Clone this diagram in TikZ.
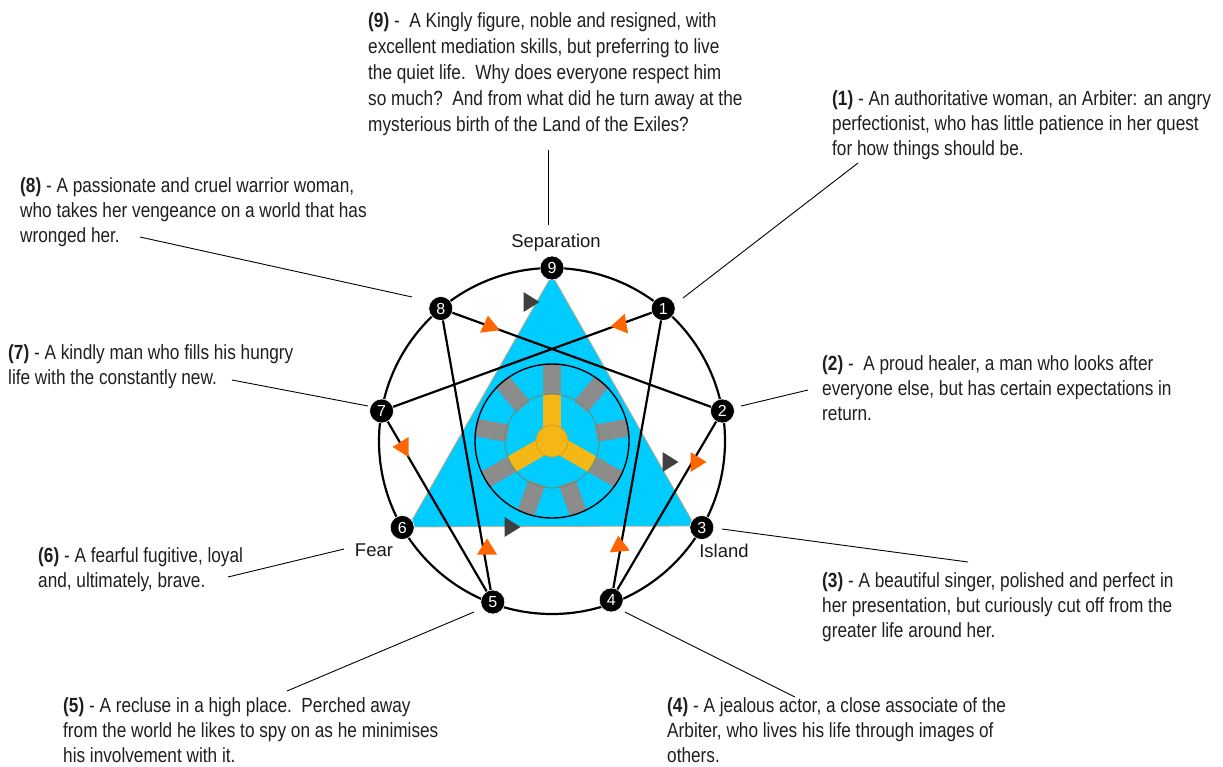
\documentclass[tikz,border=0pt]{standalone}
\usepackage{fontspec}
\usetikzlibrary{calc}
\setmainfont{Liberation Sans}
\newfontfamily\narrowfont{Liberation Sans}[FakeStretch=0.84]
\definecolor{cyanfill}{RGB}{0,204,255}
\definecolor{tanedge}{RGB}{215,170,120}
\definecolor{barGray}{RGB}{140,140,140}
\definecolor{hubYellow}{RGB}{245,183,22}
\definecolor{hubEdge}{RGB}{200,150,30}
\definecolor{ringGreen}{RGB}{110,140,100}
\definecolor{arrOrange}{RGB}{255,102,0}
\definecolor{arrDark}{RGB}{64,64,64}
\tikzset{
  pt/.style={circle, fill=black, draw=white, line width=0.6pt, minimum size=24pt, inner sep=0pt, text=white, font=\fontsize{16}{16}\selectfont},
  desc/.style={anchor=north west, inner sep=0pt, align=left, font=\narrowfont\fontsize{20.5}{25}\selectfont, text=black!88},
  lbl/.style={inner sep=0pt, font=\fontsize{18.5}{18.5}\selectfont, text=black!90},
  leader/.style={draw=black, line width=0.9pt},
  hexad/.style={draw=black, line width=2.2pt},
  omk/.pic={\fill[arrOrange] (8.5,0) -- (-7.5,10) -- (-7.5,-10) -- cycle;},
  dmk/.pic={\fill[arrDark] (8.5,0) -- (-7.5,10) -- (-7.5,-10) -- cycle;}
}
\begin{document}
\begin{tikzpicture}[x=1pt,y=-1pt]
\useasboundingbox (0,0) rectangle (1223,766);
\fill[white] (0,0) rectangle (1223,766);
% centre and points
\coordinate (c) at (552,441);
\coordinate (p9) at (552,268);
\coordinate (p1) at (663.2,308.5);
\coordinate (p2) at (722.4,411.0);
\coordinate (p3) at (701.8,527.5);
\coordinate (p4) at (611.2,600.0);
\coordinate (p5) at (492.8,602.0);
\coordinate (p6) at (402.2,527.5);
\coordinate (p7) at (381.6,411.0);
\coordinate (p8) at (440.8,308.5);
% triangle
\coordinate (tA) at (552,275);
\coordinate (tB) at (695,526);
\coordinate (tC) at (408,527);
\filldraw[fill=cyanfill, draw=tanedge, line width=0.8pt] (tA) -- (tB) -- (tC) -- cycle;
% wheel
\begin{scope}
\clip (c) circle (77);
\foreach \a in {270,310,350,30,70,110,150,190,230}
  \draw[barGray, line width=17.5pt] ($(c)+(\a:45)$) -- ($(c)+(\a:80)$);
\end{scope}
\foreach \a in {270,30,150}
  \draw[hubYellow, line width=17.5pt] (c) -- ($(c)+(\a:47)$);
\filldraw[fill=hubYellow, draw=hubEdge, line width=0.6pt] (c) circle (16);
\draw[ringGreen, line width=0.9pt] (c) circle (47);
\draw[black, line width=1.4pt] (c) circle (77);
% outer circle
\draw[black, line width=2.2pt] (c) circle (173);
% hexad
\draw[hexad] (p1) -- (p4);
\draw[hexad] (p4) -- (p2);
\draw[hexad] (p2) -- (p8);
\draw[hexad] (p8) -- (p5);
\draw[hexad] (p5) -- (p7);
\draw[hexad] (p7) -- (p1);
% markers
\path (489,324) pic[rotate=97] {omk};
\path (619,325) pic[rotate=190] {omk};
\path (401,447) pic[rotate=180] {omk};
\path (487,547) pic[rotate=90] {omk};
\path (619,544) pic[rotate=95] {omk};
\path (698,462) pic[rotate=0] {omk};
\path (531,302) pic[rotate=0] {dmk};
\path (670,462) pic[rotate=0] {dmk};
\path (512,527) pic[rotate=0] {dmk};
% point nodes
\node[pt] (n9) at (p9) {9};
\node[pt] (n1) at (p1) {1};
\node[pt] (n2) at (p2) {2};
\node[pt] (n3) at (p3) {3};
\node[pt] (n4) at (p4) {4};
\node[pt] (n5) at (p5) {5};
\node[pt] (n6) at (p6) {6};
\node[pt] (n7) at (p7) {7};
\node[pt] (n8) at (p8) {8};
% labels
\node[lbl] (sep) at (556,243) {Separation};
\node[lbl] (fear) at (374,550) {Fear};
\node[lbl] (isl) at (724,551) {Island};
% descriptions
\node[desc, font=\narrowfont\fontsize{20.5}{26}\selectfont] (d9) at (368,12) {\textbf{(9)} -\ \ A Kingly figure, noble and resigned, with\\excellent mediation skills, but preferring to live\\the quiet life.\ \ Why does everyone respect him\\so much?\ \ And from what did he turn away at the\\mysterious birth of the Land of the Exiles?};
\node[desc] (d1) at (832,90) {\textbf{(1)} - An authoritative woman, an Arbiter: an angry\\perfectionist, who has little patience in her quest\\for how things should be.};
\node[desc] (d8) at (20,177) {\textbf{(8)} - A passionate and cruel warrior woman,\\who takes her vengeance on a world that has\\wronged her.};
\node[desc] (d7) at (8,344) {\textbf{(7)} - A kindly man who fills his hungry\\life with the constantly new.};
\node[desc] (d2) at (822,355) {\textbf{(2)} -\ \ A proud healer, a man who looks after\\everyone else, but has certain expectations in\\return.};
\node[desc] (d3) at (822,572) {\textbf{(3)} - A beautiful singer, polished and perfect in\\her presentation, but curiously cut off from the\\greater life around her.};
\node[desc] (d6) at (38,547) {\textbf{(6)} - A fearful fugitive, loyal\\and, ultimately, brave.};
\node[desc] (d5) at (63,697) {\textbf{(5)} - A recluse in a high place.\ \ Perched away\\from the world he likes to spy on as he minimises\\his involvement with it.};
\node[desc] (d4) at (667,697) {\textbf{(4)} - A jealous actor, a close associate of the\\Arbiter, who lives his life through images of\\others.};
% leaders
\coordinate (l9a) at (548,150); \coordinate (l9b) at (548,225);
\coordinate (l1a) at (858,163); \coordinate (l1b) at (683,298);
\coordinate (l8a) at (140,237); \coordinate (l8b) at (412,297);
\coordinate (l7a) at (232,380); \coordinate (l7b) at (368,406);
\coordinate (l2a) at (808,390); \coordinate (l2b) at (741,406);
\coordinate (l3a) at (968,562); \coordinate (l3b) at (722,529);
\coordinate (l6a) at (228,577); \coordinate (l6b) at (344,549);
\coordinate (l5a) at (287,691); \coordinate (l5b) at (474,612);
\coordinate (l4a) at (795,697); \coordinate (l4b) at (625,612);
\draw[leader] (l9a) -- (l9b);
\draw[leader] (l1a) -- (l1b);
\draw[leader] (l8a) -- (l8b);
\draw[leader] (l7a) -- (l7b);
\draw[leader] (l2a) -- (l2b);
\draw[leader] (l3a) -- (l3b);
\draw[leader] (l6a) -- (l6b);
\draw[leader] (l5a) -- (l5b);
\draw[leader] (l4a) -- (l4b);
\end{tikzpicture}
\end{document}
